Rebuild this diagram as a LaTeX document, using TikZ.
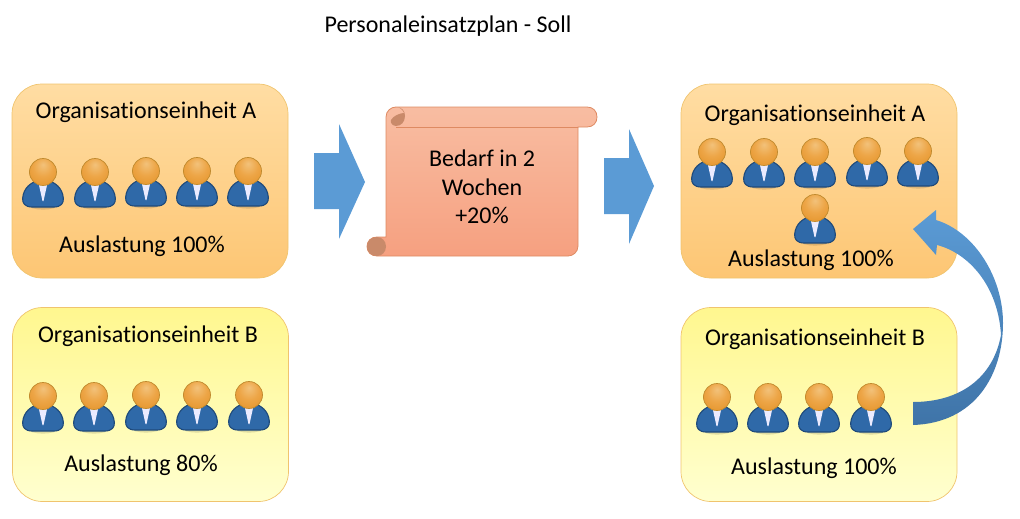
\documentclass[tikz,border=0pt]{standalone}
\usepackage{fontspec}
\setmainfont[Ligatures=NoCommon]{Carlito}
\pgfdeclareradialshading{headball}{\pgfpoint{0bp}{14bp}}{%
  rgb(0bp)=(0.95,0.76,0.48);rgb(18bp)=(0.93,0.65,0.28);rgb(45bp)=(0.88,0.55,0.12);rgb(60bp)=(0.84,0.50,0.08)}
\definecolor{blueA}{HTML}{5B9BD5}
\definecolor{blueB}{HTML}{3F74A8}
\definecolor{orTop}{HTML}{FFDDA3}
\definecolor{orBot}{HTML}{FDC674}
\definecolor{yeTop}{HTML}{FFF78F}
\definecolor{yeBot}{HTML}{FFFFCF}
\definecolor{boxLine}{HTML}{F0C46E}
\definecolor{scTop}{HTML}{F8BDA2}
\definecolor{scBot}{HTML}{F6A080}
\definecolor{scLine}{HTML}{DE8A62}
\definecolor{curl}{HTML}{C98A6A}
\definecolor{suit}{HTML}{2F69A8}
\definecolor{suitLine}{HTML}{1F4A7A}
\definecolor{headLine}{HTML}{C08A2E}
\tikzset{
  x=1pt,y=-1pt,
  unitbox/.style={rounded corners=30pt,minimum width=276pt,minimum height=194pt,outer sep=0pt,inner sep=0pt,line width=0.7pt,draw=boxLine},
  orangebox/.style={unitbox,top color=orTop,bottom color=orBot},
  yellowbox/.style={unitbox,top color=yeTop,bottom color=yeBot},
  txt/.style={font=\fontsize{24pt}{27pt}\selectfont,text=black,inner sep=0pt,align=center},
  blockarrow/.style={fill=blueA,draw=none},
  person/.pic={
    \fill[black,opacity=0.13] (-18,32) .. controls (-12,39.5) and (12,39.5) .. (18,32) -- cycle;
    \path[draw=suitLine,line width=1.1pt,fill=suit]
      (-11,35) .. controls (-18,35) and (-21,31) .. (-20.3,26)
      .. controls (-19.5,16) and (-12,10) .. (-4,8.5) -- (4,8.5)
      .. controls (12,10) and (19.5,16) .. (20.3,26)
      .. controls (21,31) and (18,35) .. (11,35) -- cycle;
    \fill[white!92!blue] (-4.5,11) -- (4.5,11) -- (0.5,29) -- (-0.5,29) -- cycle;
    \path[shading=headball,draw=headLine,line width=0.7pt] (0,0) circle (13.5);
  }
}
\begin{document}
\begin{tikzpicture}
\useasboundingbox (0,0) rectangle (1020,519);
\node[txt] (title) at (448,26) {Personaleinsatzplan - Soll};

\node[orangebox] (boxLA) at (150,181) {};
\node[yellowbox] (boxLB) at (150.5,404.5) {};
\node[orangebox] (boxRA) at (819,181) {};
\node[yellowbox] (boxRB) at (819,404.5) {};

\node[txt] (tLA) at (146,112) {Organisationseinheit A};
\node[txt] (aLA) at (142,246) {Auslastung 100\%};
\node[txt] (tLB) at (148,336) {Organisationseinheit B};
\node[txt] (aLB) at (141,465) {Auslastung 80\%};
\node[txt] (tRA) at (815,115) {Organisationseinheit A};
\node[txt] (aRA) at (811,260) {Auslastung 100\%};
\node[txt] (tRB) at (815,339) {Organisationseinheit B};
\node[txt] (aRB) at (814,468) {Auslastung 100\%};

\foreach \px/\py in {43/172,95/172,146/171,197/171,248/171,
                     43/396,94/396,146/395,197/395,249/395,
                     712/152,764/152,815/152,867/151,918/151,815/208,
                     717/397,768/397,819/397,871/397}
  \pic at (\px,\py) {person};

% block arrows
\path[blockarrow] (314,153) -- (339,153) -- (339,124) -- (365,182) -- (339,239) -- (339,209) -- (314,209) -- cycle;
\path[blockarrow] (604,158) -- (629,158) -- (629,129) -- (654,186) -- (629,244) -- (629,214) -- (604,214) -- cycle;

% scroll
\path[draw=scLine,line width=0.8pt,top color=scTop,bottom color=scBot]
  (386,117) .. controls (386,111) and (391,107) .. (396,107) -- (587,107)
  .. controls (593,107) and (597,111) .. (597,117)
  .. controls (597,123) and (593,127) .. (587,127) -- (578,127)
  -- (578,246) .. controls (578,252) and (573,256) .. (568,256)
  -- (377,256) .. controls (371,256) and (367,252) .. (367,246.5)
  .. controls (367,241) and (371,237) .. (377,237) -- (386,237) -- cycle;
\draw[scLine,line width=0.8pt] (396,127) -- (578,127);
\path[fill=curl] (396,107) .. controls (402,107) and (405,111) .. (405,116)
  .. controls (405,122) and (401,126) .. (396,126)
  .. controls (392,126) and (390,122) .. (391,120)
  .. controls (393,116) and (400,113) .. (404,113)
  .. controls (403,110) and (400,107) .. (396,107) -- cycle;
\path[fill=curl] (377,237) .. controls (382,237) and (386,241) .. (386,246.5)
  .. controls (386,252) and (382,256) .. (377,256)
  .. controls (371,256) and (367,252) .. (367,246.5)
  .. controls (367,241) and (371,237) .. (377,237) -- cycle;

\node[txt] (need) at (482,187) {Bedarf in 2\\[1.5pt]Wochen\\[1.5pt]+20\%};

% curved arrow
\path[top color=blueA,bottom color=blueB]
  (913,425) .. controls (975,423) and (1003,375) .. (1003,323)
  .. controls (1003,278) and (975,232) .. (936,220)
  -- (936,210) -- (913,229) -- (936,255) -- (937,245)
  .. controls (968,253) and (998,285) .. (1001,335)
  .. controls (993,378) and (960,402) .. (913,402) -- cycle;
\end{tikzpicture}
\end{document}
